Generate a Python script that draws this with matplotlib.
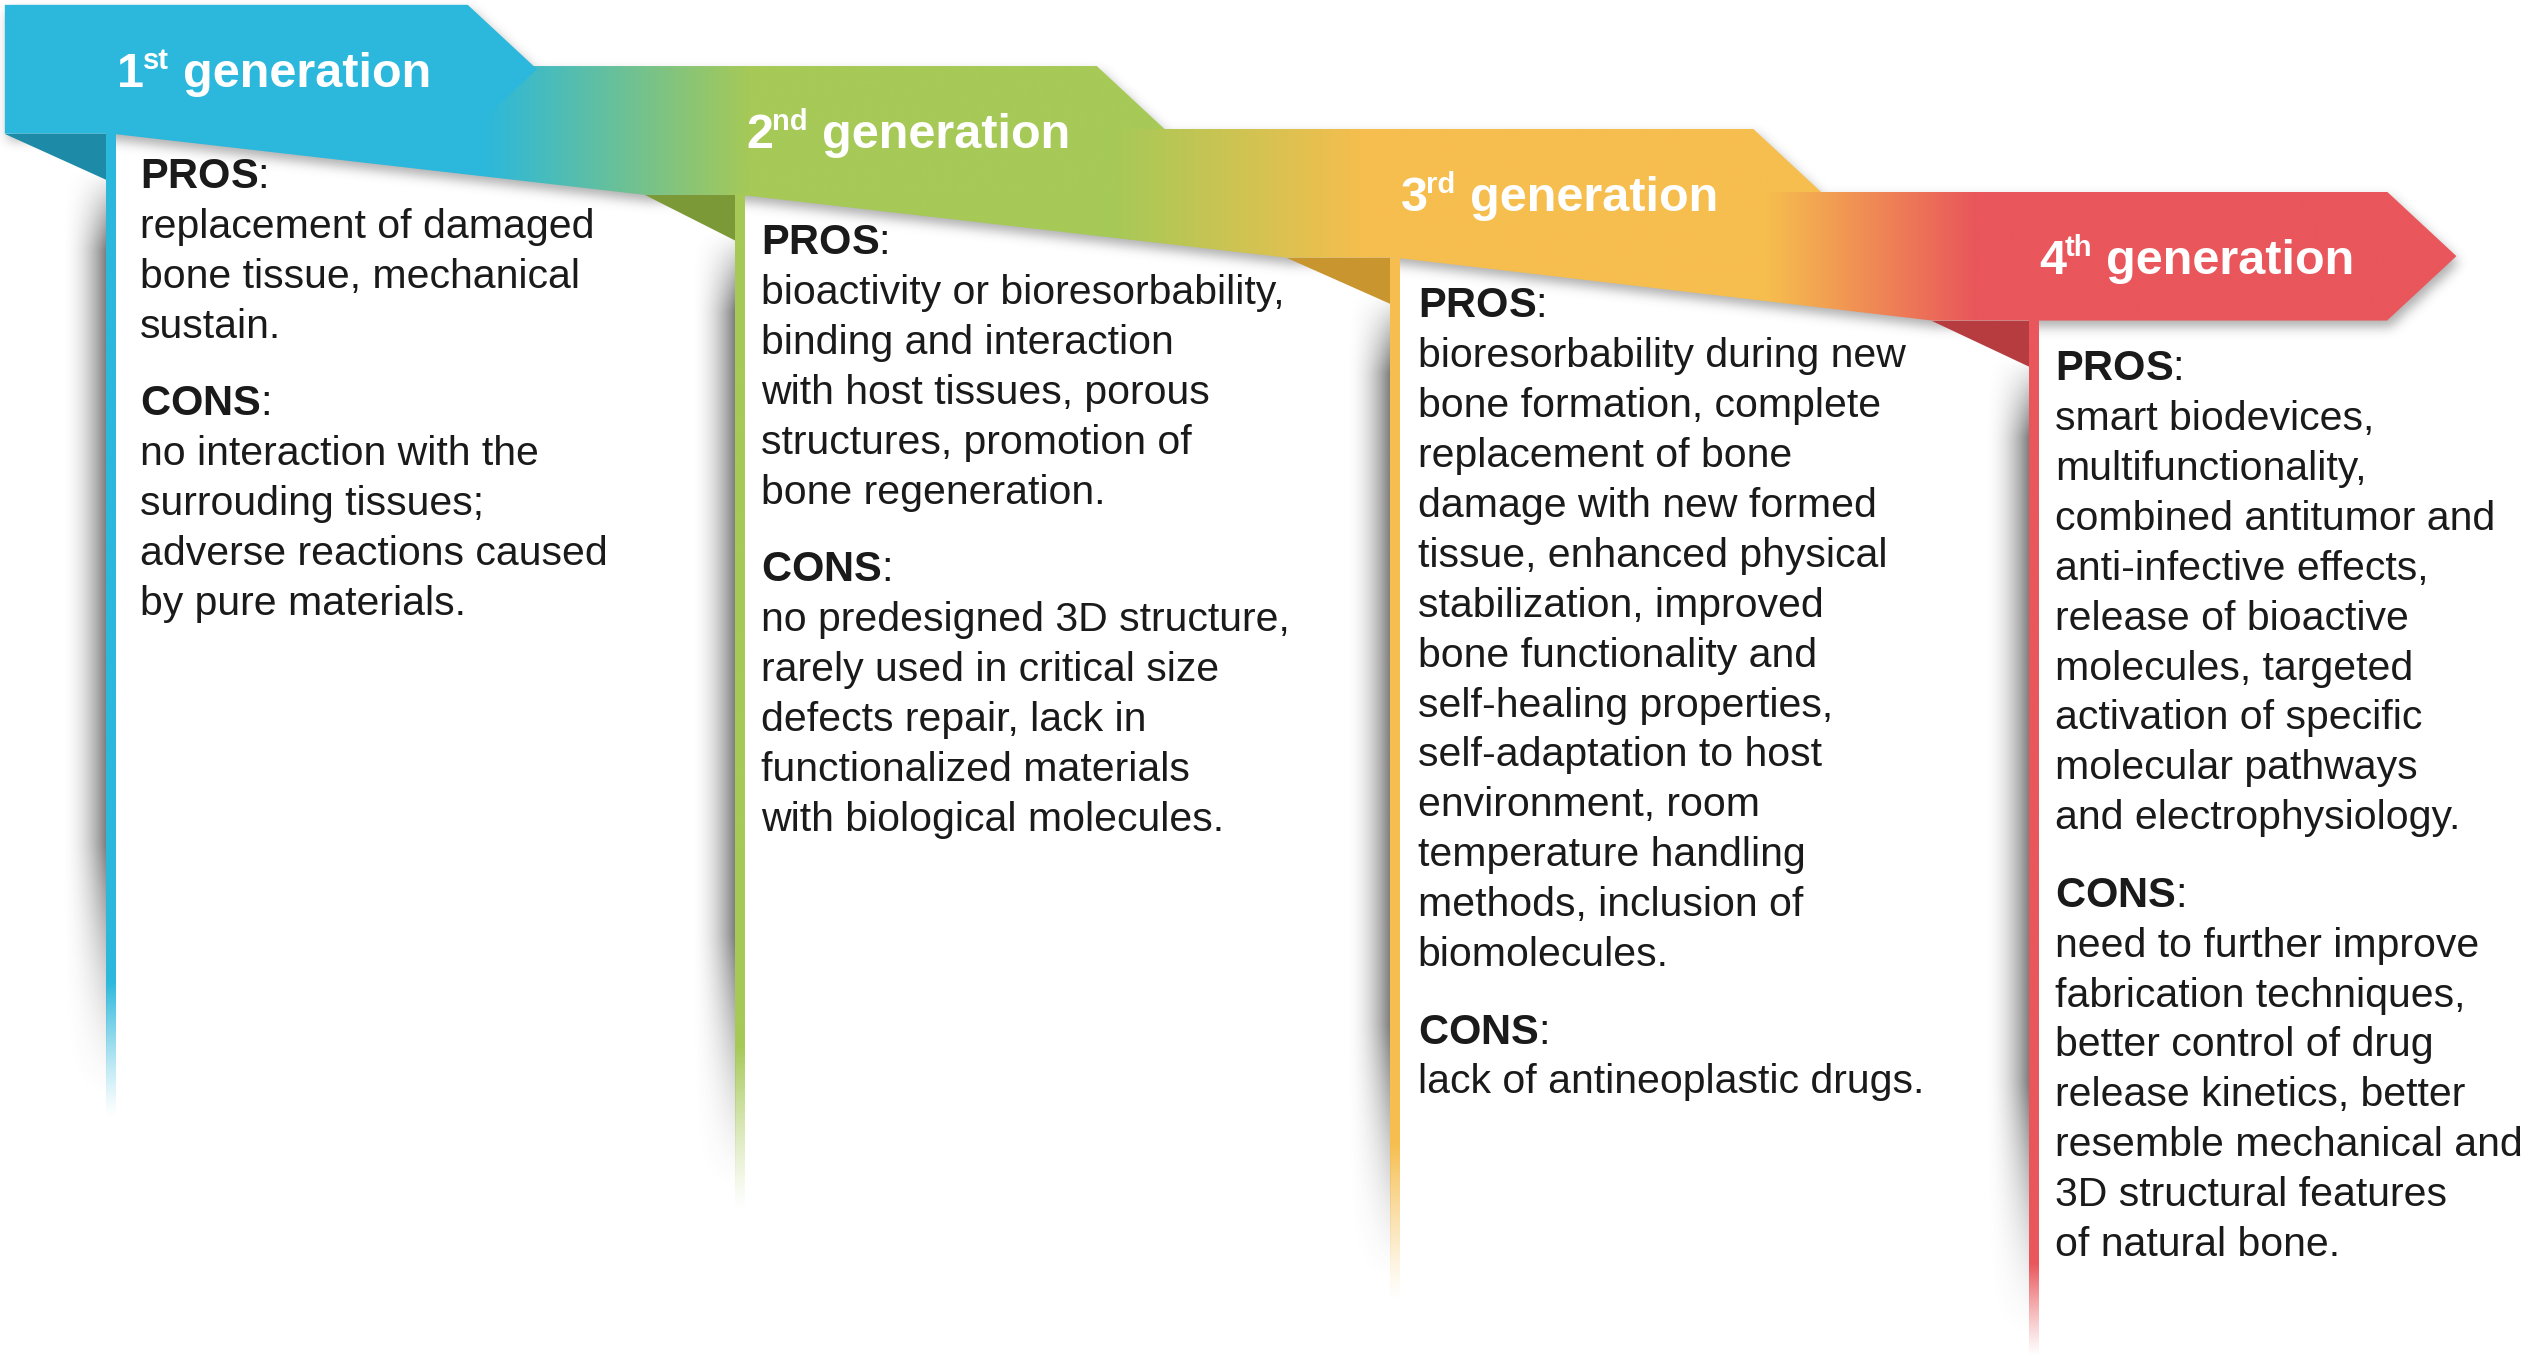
import numpy as np
import matplotlib
matplotlib.use("Agg")
import matplotlib.pyplot as plt
from matplotlib.patches import Polygon
from matplotlib.path import Path
from matplotlib.colors import to_rgb

plt.rcParams['font.family'] = ['Liberation Sans', 'DejaVu Sans']
plt.rcParams['mathtext.fontset'] = 'custom'
plt.rcParams['mathtext.rm'] = 'Liberation Sans'
plt.rcParams['mathtext.bf'] = 'Liberation Sans:bold'

# ---------------- content ----------------
gen_numbers = ["1", "2", "3", "4"]
gen_suffixes = ["st", "nd", "rd", "th"]
gen_word = "generation"
colors = ["#2BB8DC", "#A6C957", "#F6BE4E", "#E9565B"]
fold_colors = ["#1D8BA7", "#7C9937", "#C9952F", "#B73C40"]

pros = [
    ["replacement of damaged", "bone tissue, mechanical", "sustain."],
    ["bioactivity or bioresorbability,", "binding and interaction",
     "with host tissues, porous", "structures, promotion of",
     "bone regeneration."],
    ["bioresorbability during new", "bone formation, complete",
     "replacement of bone", "damage with new formed",
     "tissue, enhanced physical", "stabilization, improved",
     "bone functionality and", "self-healing properties,",
     "self-adaptation to host", "environment, room",
     "temperature handling", "methods, inclusion of", "biomolecules."],
    ["smart biodevices,", "multifunctionality,", "combined antitumor and",
     "anti-infective effects,", "release of bioactive",
     "molecules, targeted", "activation of specific",
     "molecular pathways", "and electrophysiology."],
]
cons = [
    ["no interaction with the", "surrouding tissues;",
     "adverse reactions caused", "by pure materials."],
    ["no predesigned 3D structure,", "rarely used in critical size",
     "defects repair, lack in", "functionalized materials",
     "with biological molecules."],
    ["lack of antineoplastic drugs."],
    ["need to further improve", "fabrication techniques,",
     "better control of drug", "release kinetics, better",
     "resemble mechanical and", "3D structural features",
     "of natural bone."],
]

# ---------------- layout (display units 1568 x 848) ----------------
W, H = 1568, 848
ban_top = [3, 41, 80, 119]
ban_h = 80
ban_left = [3, 290, 680, 1087]
ban_right = [290, 680, 1087, 1480]
tip = 43
line_x = [69, 459, 865, 1261]
line_w = 6.0
fold_left = [3, 400, 798, 1198]
line_end = [694, 752, 808, 843]
fade_start = [610, 650, 710, 785]
grad_ranges = [(300, 465), (690, 845), (1095, 1225)]
title_cx = [170, 563, 967, 1362]
text_x = [87, 472, 879, 1274]
pros_y = [110, 151, 190, 229]
lh = 31.0
sec_gap = 48.0

fig = plt.figure(figsize=(25.29, 13.66), dpi=100)
ax = fig.add_axes([0, 0, 1, 1])
ax.set_xlim(0, W)
ax.set_ylim(H, 0)
ax.axis('off')
renderer = fig.canvas.get_renderer()
u_per_px = W / (25.29 * 100)


def grad_fill(pts, c0, c1, x0, x1, z):
    pts = np.array(pts, float)
    xmin, xmax = pts[:, 0].min(), pts[:, 0].max()
    ymin, ymax = pts[:, 1].min(), pts[:, 1].max()
    xs = np.linspace(xmin, xmax, 800)
    t = np.clip((xs - x0) / (x1 - x0), 0, 1)
    a, b = np.array(to_rgb(c0)), np.array(to_rgb(c1))
    row = a[None, :] * (1 - t[:, None]) + b[None, :] * t[:, None]
    patch = Polygon(pts, closed=True, facecolor='none', edgecolor='none')
    ax.add_patch(patch)
    im = ax.imshow(row[None, :, :], extent=(xmin, xmax, ymax, ymin),
                   aspect='auto', zorder=z, interpolation='bilinear')
    im.set_clip_path(patch)


# ---- shapes ----
shapes = []
t0 = ban_top[0]
shapes.append(('solid', [(ban_left[0], t0), (ban_right[0], t0),
                         (ban_right[0] + tip, t0 + ban_h / 2),
                         (ban_right[0], t0 + ban_h), (ban_left[0], t0 + ban_h)], 0))
for i in range(3):
    top = ban_top[i + 1]
    bot = top + ban_h
    pts = [(ban_left[i + 1] - 150, top), (ban_right[i + 1], top),
           (ban_right[i + 1] + tip, top + ban_h / 2), (ban_right[i + 1], bot),
           (fold_left[i + 1], bot), (line_x[i], ban_top[i] + ban_h)]
    shapes.append(('grad', pts, i))

# ---- drop shadow raster ----
gy, gx = np.mgrid[0:H, 0:W]
grid = np.column_stack([gx.ravel() + 0.5, gy.ravel() + 0.5])
mask = np.zeros(H * W, bool)
dx, dy = 2.0, 4.0
for kind, pts, i in shapes:
    p = np.array(pts, float) + [dx, dy]
    mask |= Path(p).contains_points(grid)
mask = mask.reshape(H, W).astype(float)


def blur(a, sigma):
    r = int(3 * sigma)
    k = np.exp(-0.5 * (np.arange(-r, r + 1) / sigma) ** 2)
    k /= k.sum()
    out = np.zeros_like(a)
    pad = np.pad(a, ((0, 0), (r, r)), mode='edge')
    for j, kv in enumerate(k):
        out += kv * pad[:, j:j + a.shape[1]]
    pad = np.pad(out, ((r, r), (0, 0)), mode='edge')
    out2 = np.zeros_like(a)
    for j, kv in enumerate(k):
        out2 += kv * pad[j:j + a.shape[0], :]
    return out2


sh = blur(mask, 3.5)
shimg = np.zeros((H, W, 4))
shimg[..., :3] = 0.30
shimg[..., 3] = 0.45 * sh
ax.imshow(shimg, extent=(0, W, H, 0), aspect='auto', zorder=1,
          interpolation='bilinear')

# ---- draw shapes ----
for kind, pts, i in shapes:
    if kind == 'solid':
        ax.add_patch(Polygon(pts, closed=True, facecolor=colors[i],
                             edgecolor='none', zorder=3))
    else:
        grad_fill(pts, colors[i], colors[i + 1], grad_ranges[i][0],
                  grad_ranges[i][1], z=2)

for i in range(4):
    bot = ban_top[i] + ban_h
    ax.add_patch(Polygon([(fold_left[i], bot), (line_x[i], bot),
                          (line_x[i], bot + 30)], closed=True,
                         facecolor=fold_colors[i], edgecolor='none', zorder=3.5))

# ---- vertical lines with fade and left shadow ----
for i in range(4):
    bot = ban_top[i] + ban_h
    y0, y1 = bot, line_end[i]
    ny = 500
    ys = np.linspace(y0, y1, ny)
    alpha = np.where(ys < fade_start[i], 1.0,
                     1 - (ys - fade_start[i]) / (y1 - fade_start[i]))
    alpha = np.clip(alpha, 0, 1) ** 1.2
    img = np.zeros((ny, 1, 4))
    img[:, 0, :3] = to_rgb(colors[i])
    img[:, 0, 3] = alpha
    ax.imshow(img, extent=(line_x[i] - line_w / 2, line_x[i] + line_w / 2,
                           y1, y0),
              aspect='auto', zorder=4, interpolation='bilinear')

    sy0 = bot + 22
    sy1 = line_end[i] - 10
    sw = 28
    nx, nys = 80, 400
    xs = np.linspace(0, 1, nx)
    yy = np.linspace(0, 1, nys)
    L = sy1 - sy0
    ramp_in = np.clip(yy * L / 50.0, 0, 1)
    ramp_out = np.clip((1 - yy) * L / 160.0, 0, 1)
    yprof = ramp_in * ramp_out ** 1.5
    xprof = xs ** 2.0
    simg = np.zeros((nys, nx, 4))
    simg[..., :3] = 0.30
    simg[..., 3] = 0.75 * yprof[:, None] * xprof[None, :]
    ax.imshow(simg, extent=(line_x[i] - line_w / 2 - sw, line_x[i] - line_w / 2,
                            sy1, sy0),
              aspect='auto', zorder=1.2, interpolation='bilinear')

# ---- titles ----
num_fs, suf_fs = 35, 21
for i in range(4):
    cy = ban_top[i] + ban_h / 2
    base = cy + 11
    tn = ax.text(0, base, gen_numbers[i], color='white', fontsize=num_fs,
                 fontweight='bold', ha='left', va='baseline', zorder=6)
    ts = ax.text(0, base - 11, gen_suffixes[i], color='white', fontsize=suf_fs,
                 fontweight='bold', ha='left', va='baseline', zorder=6)
    tg = ax.text(0, base, gen_word, color='white', fontsize=num_fs,
                 fontweight='bold', ha='left', va='baseline', zorder=6)
    wn = tn.get_window_extent(renderer).width * u_per_px
    ws = ts.get_window_extent(renderer).width * u_per_px
    wg = tg.get_window_extent(renderer).width * u_per_px
    g1, g2 = -1.0, 9.0
    total = wn + g1 + ws + g2 + wg
    left = title_cx[i] - total / 2
    tn.set_x(left)
    ts.set_x(left + wn + g1)
    tg.set_x(left + wn + g1 + ws + g2)

# ---- body text ----
for i in range(4):
    y = pros_y[i]
    ax.text(text_x[i], y, r"$\mathbf{PROS}$:", fontsize=30, color='#1a1a1a',
            ha='left', va='center', zorder=6)
    for ln in pros[i]:
        y += lh
        ax.text(text_x[i], y, ln, fontsize=29.5, color='#1a1a1a', ha='left',
                va='center', zorder=6)
    y += sec_gap
    ax.text(text_x[i], y, r"$\mathbf{CONS}$:", fontsize=30, color='#1a1a1a',
            ha='left', va='center', zorder=6)
    for ln in cons[i]:
        y += lh
        ax.text(text_x[i], y, ln, fontsize=29.5, color='#1a1a1a', ha='left',
                va='center', zorder=6)

ax.set_xlim(0, W)
ax.set_ylim(H, 0)
fig.savefig("out.png", dpi=100, facecolor='white')
